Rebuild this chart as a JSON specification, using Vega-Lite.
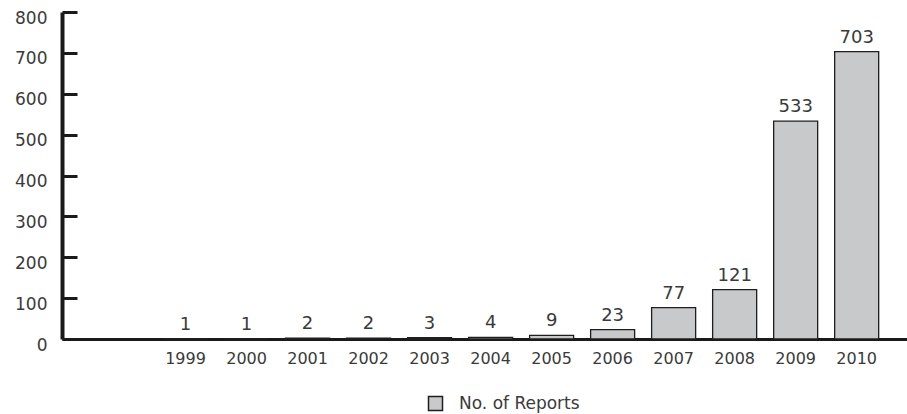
{
  "$schema": "https://vega.github.io/schema/vega-lite/v6.json",
  "autosize": "none",
  "width": 845,
  "height": 327,
  "padding": {"left": 62, "top": 12, "right": 0, "bottom": 75},
  "background": "white",
  "config": {
    "view": {"stroke": null},
    "font": "DejaVu Sans"
  },
  "data": {
    "values": [
      {"year": "1999", "reports": 1},
      {"year": "2000", "reports": 1},
      {"year": "2001", "reports": 2},
      {"year": "2002", "reports": 2},
      {"year": "2003", "reports": 3},
      {"year": "2004", "reports": 4},
      {"year": "2005", "reports": 9},
      {"year": "2006", "reports": 23},
      {"year": "2007", "reports": 77},
      {"year": "2008", "reports": 121},
      {"year": "2009", "reports": 533},
      {"year": "2010", "reports": 703}
    ]
  },
  "encoding": {
    "x": {
      "field": "year",
      "type": "ordinal",
      "scale": {"paddingInner": 0.15, "paddingOuter": 1, "align": 0.8},
      "axis": {
        "title": null,
        "labelAngle": 0,
        "ticks": false,
        "labelPadding": 11,
        "labelFontSize": 16,
        "labelColor": "#3a3a3a",
        "domainColor": "#1a1a1a",
        "domainWidth": 3,
        "grid": false
      }
    },
    "y": {
      "field": "reports",
      "type": "quantitative",
      "scale": {"domain": [0, 800], "nice": false},
      "axis": {
        "title": null,
        "values": [0, 100, 200, 300, 400, 500, 600, 700, 800],
        "grid": false,
        "tickSize": -15,
        "tickWidth": 3,
        "tickColor": "#1a1a1a",
        "domainColor": "#1a1a1a",
        "domainWidth": 4,
        "labelPadding": 30,
        "labelOffset": 6,
        "labelFontSize": 17,
        "labelColor": "#3a3a3a"
      }
    }
  },
  "layer": [
    {
      "mark": {"type": "bar", "stroke": "#1e1e1e", "strokeWidth": 1.3, "width": {"band": 0.849}},
      "encoding": {
        "color": {
          "datum": "No. of Reports",
          "scale": {"range": ["#c8c9cb"]},
          "legend": {
            "title": null,
            "orient": "none",
            "legendX": 365,
            "legendY": 383,
            "padding": 0,
            "symbolType": "square",
            "symbolSize": 196,
            "labelFontSize": 17,
            "labelColor": "#3a3a3a",
            "labelOffset": 15,
            "encode": {
              "symbols": {
                "update": {
                  "fill": {"value": "#a9a9a9"},
                  "stroke": {"value": "#333333"},
                  "strokeWidth": {"value": 1.2},
                  "opacity": {"value": 1}
                }
              }
            }
          }
        }
      }
    },
    {
      "mark": {"type": "text", "dy": -9, "baseline": "alphabetic", "fontSize": 18, "color": "#3a3a3a"},
      "encoding": {"text": {"field": "reports", "type": "quantitative"}}
    }
  ]
}
